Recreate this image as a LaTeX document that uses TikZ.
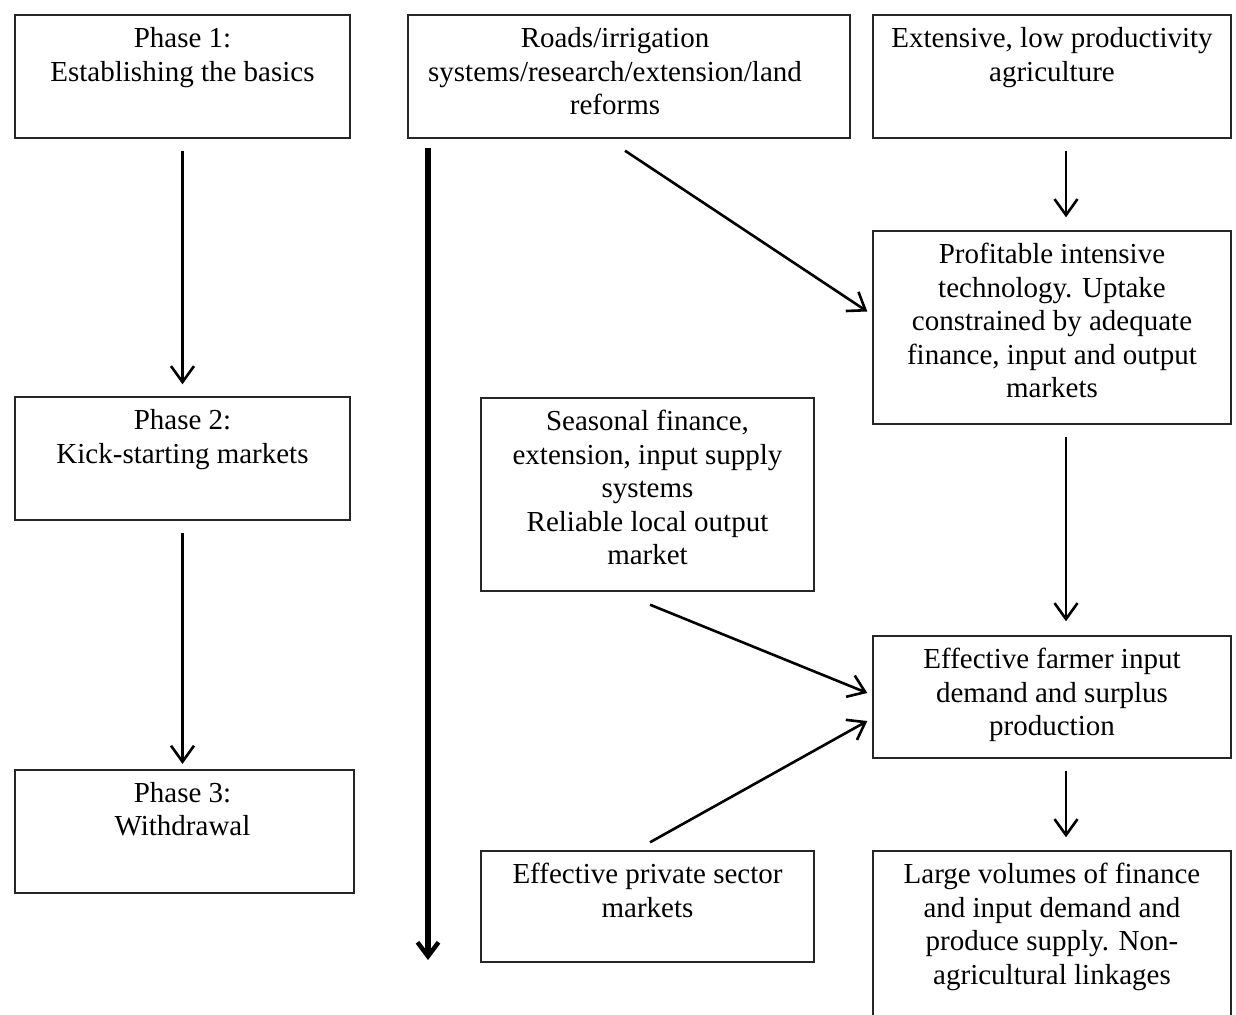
\documentclass[tikz,border=0pt]{standalone}
\usepackage{fontspec}
\setmainfont{Liberation Serif}
\usetikzlibrary{arrows.meta,calc}
\begin{document}
\begin{tikzpicture}[x=1pt,y=-1pt,
  box/.style={draw=black!85,line width=1.4pt,rectangle,inner sep=0pt},
  txt/.style={anchor=north,inner sep=0pt,align=center,font=\fontsize{29}{33.5}\selectfont},
  arr/.style={line width=2.6pt,-{Straight Barb[length=16pt,width=23pt,line width=2.6pt]}},
  bigarr/.style={line width=5.5pt,-{Straight Barb[length=14pt,width=21pt,line width=4.5pt]}}]
\useasboundingbox (0,0) rectangle (1236,1014);
% left column
\node[box,minimum width=335pt,minimum height=123pt] (p1) at (182.5,76.5) {};
\node[txt] (p1t) at ($(p1.north)+(0,13)$) {Phase 1:\\Establishing the basics};
\node[box,minimum width=335pt,minimum height=123pt] (p2) at (182.5,458.5) {};
\node[txt] (p2t) at ($(p2.north)+(0,13)$) {Phase 2:\\Kick-starting markets};
\node[box,line width=2.2pt,minimum width=339pt,minimum height=123pt] (p3) at (184.5,831.5) {};
\node[txt] (p3t) at ($(p3.north)+(-2,13)$) {Phase 3:\\Withdrawal};
% middle column
\node[box,minimum width=442pt,minimum height=123pt] (rd) at (629,76.5) {};
\node[txt] (rdt) at ($(rd.north)+(-14,13)$) {Roads/irrigation\\systems/research/extension/land\\reforms};
\node[box,minimum width=333pt,minimum height=193pt] (sf) at (647.5,494.5) {};
\node[txt] (sft) at ($(sf.north)+(0,13)$) {Seasonal finance,\\extension, input supply\\systems\\Reliable local output\\market};
\node[box,minimum width=333pt,minimum height=111pt] (ep) at (647.5,906.5) {};
\node[txt] (ept) at ($(ep.north)+(0,13)$) {Effective private sector\\markets};
% right column
\node[box,minimum width=358pt,minimum height=123pt] (ex) at (1052,76.5) {};
\node[txt] (ext) at ($(ex.north)+(0,13)$) {Extensive, low productivity\\agriculture};
\node[box,minimum width=358pt,minimum height=193pt] (pr) at (1052,327.5) {};
\node[txt] (prt) at ($(pr.north)+(0,13)$) {Profitable intensive\\technology. Uptake\\constrained by adequate\\finance, input and output\\markets};
\node[box,minimum width=358pt,minimum height=122pt] (fa) at (1052,697) {};
\node[txt] (fat) at ($(fa.north)+(0,13)$) {Effective farmer input\\demand and surplus\\production};
\node[box,minimum width=358pt,minimum height=190pt] (lv) at (1052,946) {};
\node[txt] (lvt) at ($(lv.north)+(0,13)$) {Large volumes of finance\\and input demand and\\produce supply. Non-\\agricultural linkages};
% connectors
\draw[arr] ($(p1.south)+(0,12)$) -- ($(p2.north)+(0,-12)$);
\draw[arr] ($(p2.south)+(0,12)$) -- ($(p3.north)+(-2,-5)$);
\coordinate (ts) at (428,148);
\coordinate (te) at (428,960);
\draw[bigarr] (ts) -- (te);
\draw[arr] ($(rd.south)+(-4,12)$) -- ($(pr.west)+(-5,-16)$);
\draw[arr] ($(ex.south)+(14,12)$) -- ($(pr.north)+(14,-13)$);
\draw[arr] ($(pr.south)+(14,12)$) -- ($(fa.north)+(14,-14)$);
\draw[arr] ($(fa.south)+(14,12)$) -- ($(lv.north)+(14,-13)$);
\draw[arr] ($(sf.south)+(2.5,13)$) -- ($(fa.west)+(-5,-4)$);
\draw[arr] ($(ep.north)+(2.5,-8)$) -- ($(fa.west)+(-5,24)$);
\end{tikzpicture}
\end{document}
